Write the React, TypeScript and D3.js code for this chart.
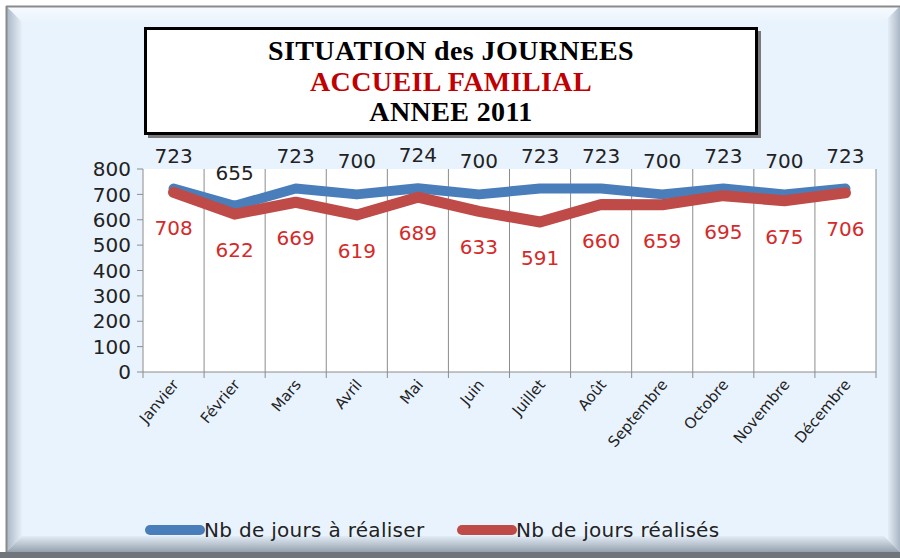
import React from "react";
import * as d3 from "d3";

const months = ["Janvier", "Février", "Mars", "Avril", "Mai", "Juin", "Juillet", "Août", "Septembre", "Octobre", "Novembre", "Décembre"];
const aRealiser = [723, 655, 723, 700, 724, 700, 723, 723, 700, 723, 700, 723];
const realises = [708, 622, 669, 619, 689, 633, 591, 660, 659, 695, 675, 706];
const yTicks = [0, 100, 200, 300, 400, 500, 600, 700, 800];
const seriesNames = ["Nb de jours à réaliser", "Nb de jours réalisés"];
const titleLines = ["SITUATION des JOURNEES", "ACCUEIL FAMILIAL", "ANNEE 2011"];

const W = 900;
const H = 558;
const font = "'DejaVu Sans', sans-serif";

const App = () => {
    const x = d3.scaleBand().domain(months).range([143, 876]);
    const y = d3.scaleLinear().domain([0, 800]).range([372, 169]);
    const cx = (m: string) => (x(m) as number) + x.bandwidth() / 2;

    const line = d3
        .line<number>()
        .x((d, i) => cx(months[i]))
        .y(d => y(d));

    const bounds = months.map(m => x(m) as number).concat([876]);

    return (
        <svg width={W} height={H} style={{position: "absolute", left: 0, top: 0}}>
            <defs>
                <linearGradient id="lb" x1="0" x2="1" y1="0" y2="0">
                    <stop offset="0" stopColor="#a7b4c2"/>
                    <stop offset="1" stopColor="#e6f0fa"/>
                </linearGradient>
                <linearGradient id="rb" x1="0" x2="1" y1="0" y2="0">
                    <stop offset="0" stopColor="#e3edf7"/>
                    <stop offset="1" stopColor="#aab6c3"/>
                </linearGradient>
                <linearGradient id="bb" x1="0" x2="0" y1="0" y2="1">
                    <stop offset="0" stopColor="#e2ecf6"/>
                    <stop offset="1" stopColor="#95a1ad"/>
                </linearGradient>
                <linearGradient id="tb" x1="0" x2="0" y1="0" y2="1">
                    <stop offset="0" stopColor="#f7fbff"/>
                    <stop offset="1" stopColor="#eaf3fc"/>
                </linearGradient>
            </defs>

            {/* frame */}
            <rect x={0} y={0} width={W} height={H} fill="#ffffff"/>
            <rect x={6} y={6} width={894} height={552} fill="#e9f3fd"/>
            <polygon points="6,6 900,6 884,22 22,22" fill="url(#tb)"/>
            <polygon points="6,6 22,22 22,536 6,552" fill="url(#lb)"/>
            <polygon points="900,6 900,552 888,540 888,18" fill="url(#rb)"/>
            <polygon points="6,552 22,536 884,536 900,552" fill="url(#bb)"/>
            <line x1={6} x2={900} y1={6.5} y2={6.5} stroke="#8a8a8a" strokeWidth={2}/>
            <line x1={6.5} x2={6.5} y1={6} y2={552} stroke="#8a8a8a" strokeWidth={2}/>
            <rect x={0} y={552} width={W} height={6} fill="#6f757b"/>

            {/* title box */}
            <rect x={148} y={31} width={613} height={107} fill="#7a7a7a"/>
            <rect x={145.5} y={28.5} width={611} height={105} fill="#ffffff" stroke="#000" strokeWidth={3}/>
            {titleLines.map((t, i) => (
                <text key={t} x={451} y={60 + i * 30.5} textAnchor="middle"
                      fontFamily="'Liberation Serif', serif" fontWeight="bold" fontSize={28}
                      fill={i === 1 ? "#c00000" : "#000"} letterSpacing={0.4}>
                    {t}
                </text>
            ))}

            {/* plot area */}
            <rect x={143} y={169} width={733} height={203} fill="#ffffff"/>
            {bounds.map((b, i) => (
                <line key={"g" + i} x1={b} x2={b} y1={169} y2={378} stroke="#8c8c8c" strokeWidth={1}/>
            ))}
            <line x1={143} x2={876} y1={372} y2={372} stroke="#8c8c8c"/>
            {yTicks.map(t => (
                <g key={"y" + t}>
                    <line x1={137} x2={143} y1={y(t)} y2={y(t)} stroke="#8c8c8c"/>
                    <text x={131} y={y(t)} dy="0.36em" textAnchor="end" fontFamily={font} fontSize={20} fill="#222">{t}</text>
                </g>
            ))}

            {months.map(m => (
                <text key={"x" + m} transform={`translate(${cx(m) + 6},${385}) rotate(-50)`} textAnchor="end"
                      fontFamily={font} fontSize={15} fill="#222">{m}</text>
            ))}

            <path d={line(aRealiser) as string} fill="none" stroke="#4a7ebb" strokeWidth={10} strokeLinejoin="round" strokeLinecap="round"/>
            <path d={line(realises) as string} fill="none" stroke="#be4b48" strokeWidth={11} strokeLinejoin="round" strokeLinecap="round"/>

            {aRealiser.map((v, i) => (
                <text key={"a" + i} x={cx(months[i])} y={y(v) - 26} textAnchor="middle"
                      fontFamily={font} fontSize={20} fill="#222">{v}</text>
            ))}
            {realises.map((v, i) => (
                <text key={"r" + i} x={cx(months[i])} y={y(v) + 43} textAnchor="middle"
                      fontFamily={font} fontSize={20} fill="#d42a2a">{v}</text>
            ))}

            {/* legend */}
            <line x1={150} x2={200} y1={530} y2={530} stroke="#4a7ebb" strokeWidth={10} strokeLinecap="round"/>
            <text x={204} y={530} dy="0.35em" fontFamily={font} fontSize={20} fill="#222" letterSpacing={0.3}>{seriesNames[0]}</text>
            <line x1={462} x2={512} y1={530} y2={530} stroke="#be4b48" strokeWidth={10} strokeLinecap="round"/>
            <text x={516} y={530} dy="0.35em" fontFamily={font} fontSize={20} fill="#222" letterSpacing={0.3}>{seriesNames[1]}</text>
        </svg>
    );
};

export default App;
